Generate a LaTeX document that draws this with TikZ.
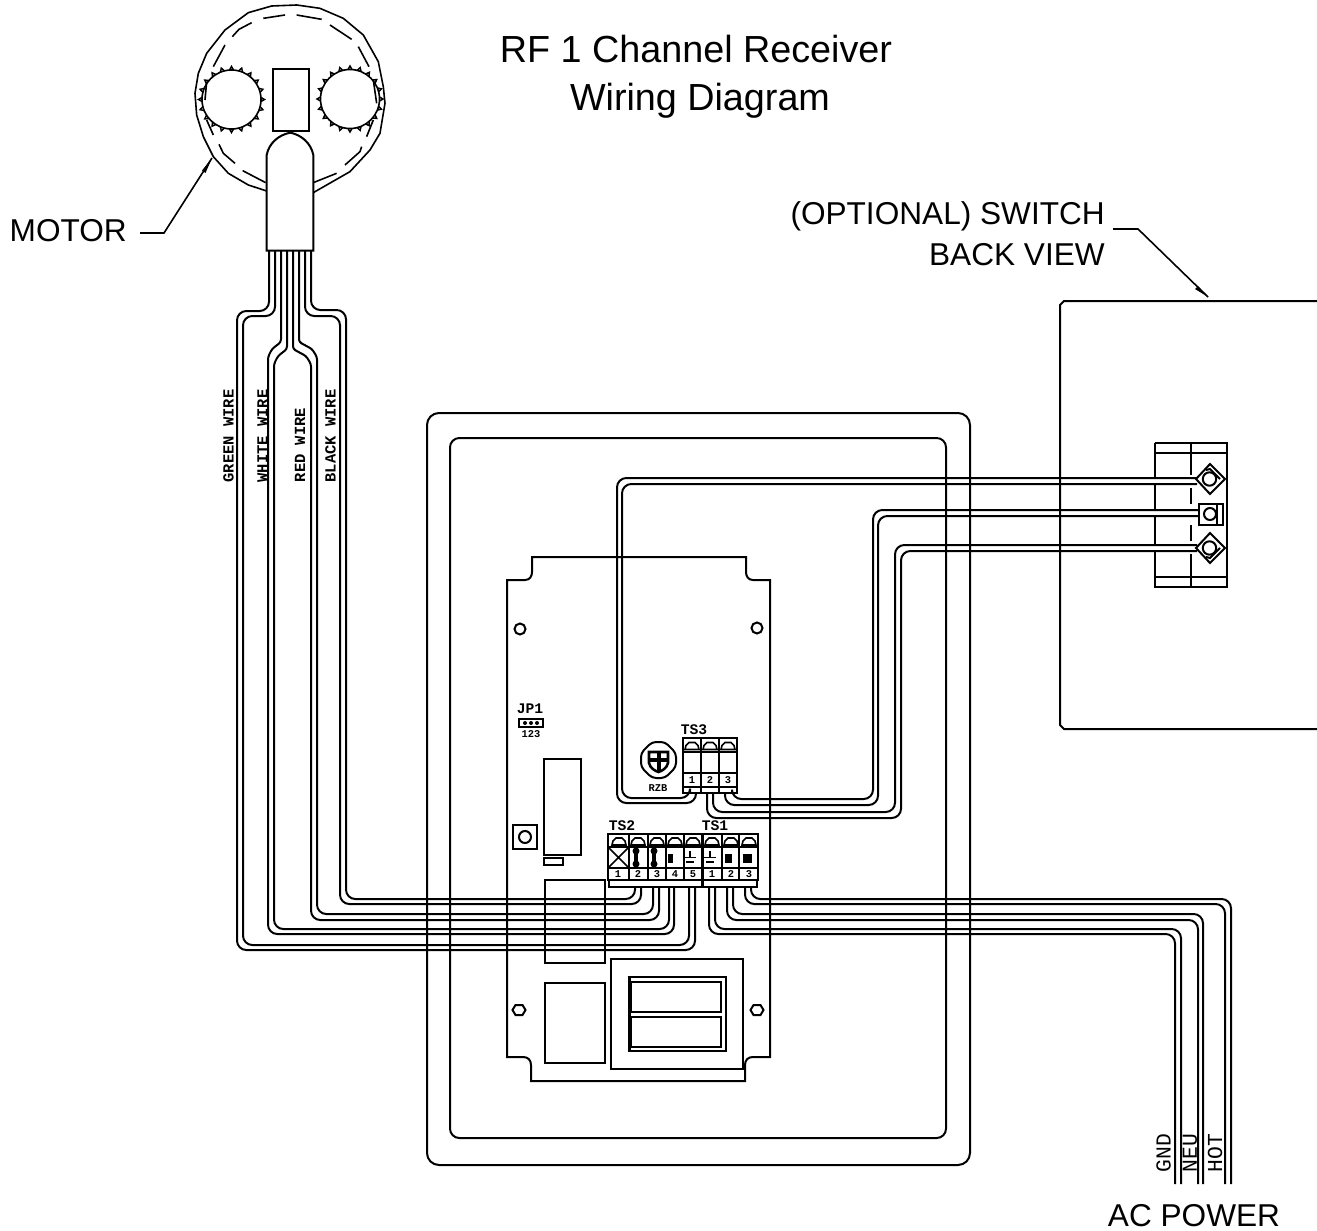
\documentclass[tikz,border=0pt]{standalone}
\usepackage{fontspec}
\setmainfont{Liberation Sans}
\newfontfamily\cadfont{Liberation Mono}
\tikzset{
  ln/.style={line width=1.5pt,line cap=butt,line join=miter},
  wire/.style={ln,rounded corners=7pt},
  big/.style={inner sep=0pt,font=\fontsize{23.7pt}{28pt}\selectfont},
  title/.style={inner sep=0pt,font=\fontsize{28.3pt}{34pt}\selectfont},
  cadv/.style={inner sep=0pt,rotate=90,font=\cadfont\bfseries\fontsize{11.6pt}{12pt}\selectfont},
  cadp/.style={inner sep=0pt,rotate=90,font=\cadfont\fontsize{16pt}{16pt}\selectfont},
  cadt/.style={inner sep=0pt,font=\cadfont\bfseries\fontsize{11pt}{11pt}\selectfont},
  cadd/.style={inner sep=0pt,font=\cadfont\bfseries\fontsize{7.8pt}{8pt}\selectfont},
  leader/.style={line width=1.2pt},
}
\newcommand{\gearshape}[2]{%
  \draw[line width=1.2pt] (#1,#2) circle[radius=29.5];
  \foreach \a in {0,18,...,342}{
    \draw[line width=1.1pt] ($(#1,#2)+(\a-4:29.5)$) -- ($(#1,#2)+(\a:33)$) -- ($(#1,#2)+(\a+4:29.5)$);
  }}
\newcommand{\capmark}[2]{%
  \draw[line width=1.2pt] (#1-7,#2+4) -- (#1-6,#2) -- (#1-3,#2-3) -- (#1+3,#2-3) -- (#1+6,#2) -- (#1+7,#2+4) -- cycle;}
\newcommand{\gndmark}[1]{%
  \draw[line width=1.3pt] (#1,851) -- (#1,857) (#1-6,857.5) -- (#1+6,857.5) (#1-4,862) -- (#1+4,862);}
\newcommand{\dumb}[1]{%
  \draw[line width=3.4pt] (#1,850) -- (#1,866);
  \fill (#1,851) circle[radius=3.5] (#1,864) circle[radius=3.5];}
\usetikzlibrary{calc}
\begin{document}
\begin{tikzpicture}[x=0.75pt,y=-0.75pt]
\useasboundingbox (0,0) rectangle (1317,1231);
\fill[white] (0,0) rectangle (1317,1231);

%% titles and labels
\node[title] (t1) at (696,49) {RF 1 Channel Receiver};
\node[title] (t2) at (700,100.5) {Wiring Diagram};
\node[big,anchor=east] (motorlbl) at (127,231) {MOTOR};
\node[big,anchor=east] (sw1) at (1105,216) {(OPTIONAL) SWITCH};
\node[big,anchor=east] (sw2) at (1105,255) {BACK VIEW};
\node[big] (ac) at (1194,1216) {AC POWER};

%% motor
\begin{scope}[shift={(170,0)},scale=0.3333]
  \draw[line width=1.2pt] (290,573) -- (235,555) -- (175,520) -- (130,470) -- (100,410) -- (80,345) -- (75,280) -- (85,220) -- (110,160) -- (165,90) -- (235,38) -- (305,18) -- (380,15) -- (450,25) -- (520,55) -- (580,105) -- (625,185) -- (640,260) -- (645,310) -- (630,400) -- (600,450) -- (540,515) -- (430,578);
  \draw[line width=1.2pt] (280,55)--(345,45) (380,45)--(455,58) (480,75)--(545,118) (565,140)--(597,200) (610,240)--(620,310) (610,360)--(590,410) (575,440)--(570,455)--(525,495) (500,520)--(430,548) (287,548)--(218,512) (195,490)--(160,460)--(147,433) (130,405)--(110,360) (105,300)--(110,245) (130,200)--(165,135) (187,110)--(207,88)--(245,68);
\end{scope}
\gearshape{231.5}{99.5}
\gearshape{350}{99}
\draw[ln] (273,69) rectangle (309,131);
\begin{scope}[shift={(170,0)},scale=0.3333]
  \draw[ln,fill=white] (290,752) -- (290,465) .. controls (297,430) and (325,405) .. (361,398) .. controls (395,405) and (423,430) .. (430,465) -- (430,752) -- cycle;
\end{scope}
\coordinate (motorA) at (212,158);
\coordinate (motorB) at (164,233);
\coordinate (motorC) at (140,233);
\draw[leader] (motorC) -- (motorB) -- (motorA);
\fill (motorA) -- (205.5,173) -- (202,170.5) -- cycle;

%% wires from motor to TS2
\coordinate (g1s) at (269,251); \coordinate (g1e) at (695,887);
\coordinate (g2s) at (275,251); \coordinate (g2e) at (689,887);
\draw[wire] (g1s) -- (269,311) -- (237,311) -- (237,950) -- (695,950) -- (g1e);
\draw[wire] (g2s) -- (275,316) -- (243,316) -- (243,945) -- (689,945) -- (g2e);
\coordinate (w1s) at (281,251); \coordinate (w1e) at (674,887);
\coordinate (w2s) at (287,251); \coordinate (w2e) at (669,887);
\draw[ln] (w1s) [rounded corners=2pt] -- (281,342) -- (272,349) -- (268,357) [rounded corners=7pt] -- (268,934) -- (674,934) -- (w1e);
\draw[ln] (w2s) [rounded corners=2pt] -- (287,349) -- (278,356) -- (274,364) [rounded corners=7pt] -- (274,929) -- (669,929) -- (w2e);
\coordinate (r1s) at (293,251); \coordinate (r1e) at (659,887);
\coordinate (r2s) at (299,251); \coordinate (r2e) at (653,887);
\draw[ln] (r1s) [rounded corners=2pt] -- (293,349) -- (306,356) -- (311,364) [rounded corners=7pt] -- (311,920) -- (659,920) -- (r1e);
\draw[ln] (r2s) [rounded corners=2pt] -- (299,342) -- (312,349) -- (317,357) [rounded corners=7pt] -- (317,914) -- (653,914) -- (r2e);
\coordinate (b1s) at (305,251); \coordinate (b1e) at (641,887);
\coordinate (b2s) at (311,251); \coordinate (b2e) at (635,887);
\draw[wire] (b1s) -- (305,316) -- (340,316) -- (340,904) -- (641,904) -- (b1e);
\draw[wire] (b2s) -- (311,310) -- (346,310) -- (346,899) -- (635,899) -- (b2e);

\node[cadv] (lgreen) at (228.5,436) {GREEN WIRE};
\node[cadv] (lwhite) at (262.5,436) {WHITE WIRE};
\node[cadv] (lred) at (300,445) {RED WIRE};
\node[cadv] (lblack) at (330.5,436) {BLACK WIRE};

%% enclosure
\draw[ln,rounded corners=9pt] (427,413) rectangle (970,1165);
\draw[ln,rounded corners=7pt] (450,438) rectangle (946,1138);

%% board
\draw[ln] (507,580) -- (525,580) .. controls (530,580) and (532,576) .. (532,572) -- (532,557) -- (746,557) -- (746,572) .. controls (746,576) and (748,580) .. (753,580) -- (770,580) -- (770,1057) -- (753,1057) .. controls (748,1057) and (745,1060) .. (745,1065) -- (745,1081) -- (531,1081) -- (531,1065) .. controls (531,1060) and (528,1057) .. (523,1057) -- (507,1057) -- cycle;
\draw[ln] (520,629) circle[radius=5.5];
\draw[ln] (757,628) circle[radius=5.5];
\foreach \c in {519,757}{
  \draw[ln] (\c-6.5,1010) -- (\c-3.5,1005) -- (\c+3.5,1005) -- (\c+6.5,1010) -- (\c+3.5,1015) -- (\c-3.5,1015) -- cycle;
}
\draw[ln] (544,759) rectangle (581,855);
\draw[ln] (544,858) rectangle (563,865);
\draw[ln] (513,825) rectangle (537,849);
\draw[ln] (525,837) circle[radius=6];
\draw[ln] (545,880) rectangle (605,963);
\draw[ln] (545,983) rectangle (605,1063);
\draw[ln] (611,959) rectangle (743,1069);
\draw[ln] (629,977) rectangle (726,1051);
\draw[ln] (631,982) rectangle (721,1012);
\draw[ln] (631,1017) rectangle (721,1047);
\draw[line width=2pt] (630,977) -- (630,1051);

%% JP1
\node[cadt] (jp1) at (530,709) {JP1};
\draw[ln] (519,719) rectangle (543,727);
\foreach \c in {525,531,537}{ \fill (\c,723) circle[radius=2]; }
\node[cadd] (jp123) at (531,734) {123};

%% RZB pot
\draw[ln,rounded corners=3pt] (652,742) -- (665,742) -- (676,753) -- (676,767) -- (665,778) -- (652,778) -- (641,767) -- (641,753) -- cycle;
\draw[line width=1.9pt] (649,752) -- (668,752) -- (668,763) .. controls (667,768) and (662,771) .. (658.5,772) .. controls (655,771) and (650,768) .. (649,763) -- cycle;
\fill (650,758) rectangle (667,761.5);
\fill (656.5,752) rectangle (660.5,771);
\node[cadd] (rzb) at (658,788) {RZB};

%% TS3
\node[cadt] (ts3) at (694,730) {TS3};
\draw[ln] (683,738) rectangle (737,793);
\draw[ln] (701,738) -- (701,793) (719,738) -- (719,793);
\draw[ln] (683,752) -- (737,752) (683,773) -- (737,773) (683,787) -- (737,787);
\foreach \c in {692,710,728}{ \capmark{\c}{745.5} }
\node[cadd] (ts3a) at (692,780) {1};
\node[cadd] (ts3b) at (710,780) {2};
\node[cadd] (ts3c) at (728,780) {3};

%% TS2 + TS1
\node[cadt] (ts2) at (622,826) {TS2};
\node[cadt] (ts1) at (715,826) {TS1};
\draw[ln] (608,834) rectangle (758,880);
\draw[ln] (609,880) rectangle (757,887);
\draw[ln] (608,847) -- (758,847) (608,868) -- (758,868);
\foreach \c in {629,648,666,684,703,722,739}{ \draw[ln] (\c,834) -- (\c,880); }
\draw[line width=2.4pt] (702.5,834) -- (702.5,887);
\foreach \c in {619,638,657,675,693,712,731,749}{ \capmark{\c}{841} }
\draw[line width=1.2pt] (608,847) -- (629,868) (629,847) -- (608,868);
\dumb{636}
\dumb{654}
\fill (668,854) rectangle (673,863);
\gndmark{690}
\gndmark{710}
\fill (725,854) rectangle (732,863);
\fill (743,854) rectangle (752,863);
\node[cadd] (d1) at (618,874) {1};
\node[cadd] (d2) at (638,874) {2};
\node[cadd] (d3) at (657,874) {3};
\node[cadd] (d4) at (675,874) {4};
\node[cadd] (d5) at (693,874) {5};
\node[cadd] (d6) at (712,874) {1};
\node[cadd] (d7) at (731,874) {2};
\node[cadd] (d8) at (749,874) {3};

%% TS1 to AC power
\coordinate (n1s) at (709,887); \coordinate (n1e) at (1175,1184);
\coordinate (n2s) at (715,887); \coordinate (n2e) at (1181,1184);
\draw[wire] (n1s) -- (709,934) -- (1175,934) -- (n1e);
\draw[wire] (n2s) -- (715,929) -- (1181,929) -- (n2e);
\coordinate (m1s) at (727,887); \coordinate (m1e) at (1198,1184);
\coordinate (m2s) at (733,887); \coordinate (m2e) at (1203,1184);
\draw[wire] (m1s) -- (727,920) -- (1198,920) -- (m1e);
\draw[wire] (m2s) -- (733,914) -- (1203,914) -- (m2e);
\coordinate (h1s) at (745,887); \coordinate (h1e) at (1225,1184);
\coordinate (h2s) at (751,887); \coordinate (h2e) at (1231,1184);
\draw[wire] (h1s) -- (745,904) -- (1225,904) -- (h1e);
\draw[wire] (h2s) -- (751,899) -- (1231,899) -- (h2e);
\node[cadp] (gnd) at (1163.5,1153) {GND};
\node[cadp] (neu) at (1190,1153) {NEU};
\node[cadp] (hot) at (1215,1153) {HOT};

%% TS3 to switch
\coordinate (s1s) at (696,793); \coordinate (s1e) at (1197,478);
\coordinate (s2s) at (690,793); \coordinate (s2e) at (1197,484);
\draw[wire] (s1s) -- (696,803) -- (617,803) -- (617,478) -- (s1e);
\draw[wire] (s2s) -- (690,798) -- (622,798) -- (622,484) -- (s2e);
\coordinate (s3s) at (725,793); \coordinate (s3e) at (1198,516);
\coordinate (s4s) at (732,793); \coordinate (s4e) at (1198,510);
\draw[wire] (s3s) -- (725,805) -- (878,805) -- (878,516) -- (s3e);
\draw[wire] (s4s) -- (732,799) -- (873,799) -- (873,510) -- (s4e);
\coordinate (s5s) at (707,793); \coordinate (s5e) at (1197,551);
\coordinate (s6s) at (713,793); \coordinate (s6e) at (1197,545);
\draw[wire] (s5s) -- (707,818) -- (901,818) -- (901,551) -- (s5e);
\draw[wire] (s6s) -- (713,812) -- (895,812) -- (895,545) -- (s6e);

%% switch
\draw[ln] (1317,301) -- (1064,301) -- (1060,305) -- (1060,725) -- (1064,729) -- (1317,729);
\coordinate (swA) at (1208,297);
\coordinate (swB) at (1138,229);
\coordinate (swC) at (1113,229);
\draw[leader] (swC) -- (swB) -- (swA);
\fill (swA) -- (1195,289) -- (1198,286) -- cycle;
\draw[ln] (1155,443) -- (1227,443) -- (1227,587) -- (1155,587) -- (1155,551) (1155,545) -- (1155,516) (1155,510) -- (1155,484) (1155,478) -- (1155,443);
\draw[ln] (1191,443) -- (1191,475) (1191,488) -- (1191,504) (1191,525) -- (1191,541) (1191,554) -- (1191,587);
\draw[ln] (1155,453) -- (1227,453) (1155,577) -- (1227,577);
\draw[ln] (1196,479) -- (1210,464) -- (1225,479) -- (1210,494) -- cycle;
\draw[ln] (1206,470) -- (1210,469) -- (1220,479);
\draw[ln] (1209.5,479) circle[radius=6.7];
\draw[ln] (1199,504) rectangle (1223,525);
\draw[ln] (1217,504) -- (1217,525);
\draw[ln] (1210,514) circle[radius=6];
\draw[ln] (1196,548) -- (1210,533) -- (1225,548) -- (1210,563) -- cycle;
\draw[ln] (1220,548) -- (1210,558) -- (1206,557);
\draw[ln] (1209.5,548) circle[radius=6.7];
\end{tikzpicture}
\end{document}
